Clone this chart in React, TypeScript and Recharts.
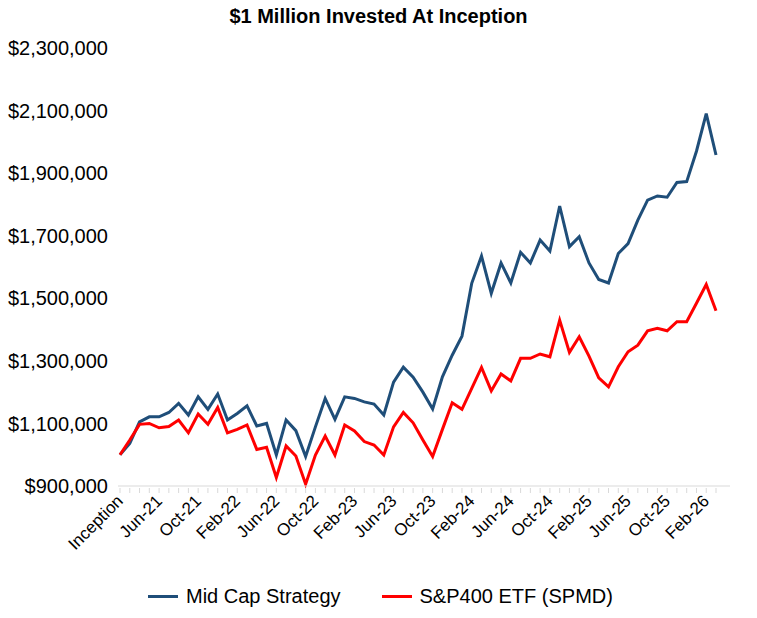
import React from 'react';
import { LineChart, Line, XAxis, YAxis } from 'recharts';

const months = ['Inception','Mar-21','Apr-21','May-21','Jun-21','Jul-21','Aug-21','Sep-21','Oct-21','Nov-21','Dec-21','Jan-22','Feb-22','Mar-22','Apr-22','May-22','Jun-22','Jul-22','Aug-22','Sep-22','Oct-22','Nov-22','Dec-22','Jan-23','Feb-23','Mar-23','Apr-23','May-23','Jun-23','Jul-23','Aug-23','Sep-23','Oct-23','Nov-23','Dec-23','Jan-24','Feb-24','Mar-24','Apr-24','May-24','Jun-24','Jul-24','Aug-24','Sep-24','Oct-24','Nov-24','Dec-24','Jan-25','Feb-25','Mar-25','Apr-25','May-25','Jun-25','Jul-25','Aug-25','Sep-25','Oct-25','Nov-25','Dec-25','Jan-26','Feb-26','Mar-26'];

const midCap = [1000000,1036000,1105000,1121000,1121000,1135000,1164000,1127000,1185000,1145000,1194000,1111000,1132000,1156000,1092000,1100000,999000,1111000,1077000,994000,1089000,1180000,1113000,1185000,1180000,1169000,1162000,1127000,1232000,1280000,1248000,1200000,1146000,1249000,1318000,1379000,1548000,1635000,1516000,1613000,1549000,1647000,1613000,1686000,1651000,1795000,1665000,1697000,1613000,1560000,1549000,1643000,1675000,1750000,1814000,1827000,1823000,1870000,1873000,1970000,2090000,1958000];

const spmd = [1000000,1047000,1097000,1100000,1086000,1090000,1111000,1070000,1130000,1097000,1151000,1070000,1081000,1095000,1017000,1024000,927000,1028000,996000,906000,999000,1060000,999000,1095000,1076000,1042000,1031000,999000,1089000,1135000,1102000,1047000,994000,1081000,1166000,1145000,1212000,1279000,1204000,1258000,1236000,1308000,1308000,1322000,1313000,1430000,1327000,1377000,1315000,1246000,1217000,1281000,1329000,1350000,1396000,1404000,1396000,1425000,1425000,1484000,1544000,1460000];

const yTicks = [900000,1100000,1300000,1500000,1700000,1900000,2100000,2300000];

const data = months.map((m, i) => ({ month: m, midCap: midCap[i], spmd: spmd[i] }));

const FONT = 'Liberation Sans, Arial, sans-serif';

const XTick = (props: any) => {
  const { x, y, payload, index } = props;
  return (
    <g>
      <line x1={x} y1={y - 6} x2={x} y2={y - 1} stroke="#d9d9d9" />
      {index % 4 === 0 && (
        <text x={x + 4} y={y + 8} textAnchor="end" transform={`rotate(-45, ${x + 4}, ${y + 8})`} fontSize={17} fill="#000" fontFamily={FONT}>
          {payload.value}
        </text>
      )}
    </g>
  );
};

const fmt = (v: number) => '$' + v.toLocaleString('en-US');

export default function App() {
  return (
    <div style={{ position: 'absolute', left: 0, top: 0, width: 757, height: 618, background: '#fff', fontFamily: FONT }}>
      <div style={{ position: 'absolute', top: 5, left: 0, width: 757, textAlign: 'center', fontWeight: 'bold', fontSize: 20 }}>
        $1 Million Invested At Inception
      </div>
      <LineChart width={757} height={618} data={data} margin={{ top: 48, right: 27, bottom: 62, left: 0 }}>
        <XAxis dataKey="month" interval={0} tick={<XTick />} tickLine={false} axisLine={{ stroke: '#d9d9d9' }} height={70} padding={{ left: 2, right: 14 }} />
        <YAxis domain={[900000, 2300000]} ticks={yTicks} tickFormatter={fmt} axisLine={false} tickLine={false} width={118} tickMargin={4} tick={{ fontSize: 20, fill: '#000', fontFamily: FONT }} />
        <Line dataKey="midCap" stroke="#1F4E79" strokeWidth={3} dot={false} isAnimationActive={false} />
        <Line dataKey="spmd" stroke="#FF0000" strokeWidth={3} dot={false} isAnimationActive={false} />
      </LineChart>
      <div style={{ position: 'absolute', top: 585, left: 148, display: 'flex', alignItems: 'center', fontSize: 20 }}>
        <span style={{ display: 'inline-block', width: 30, height: 3, background: '#1F4E79', marginRight: 8 }} />
        <span>Mid Cap Strategy</span>
        <span style={{ display: 'inline-block', width: 30, height: 3, background: '#FF0000', marginLeft: 41, marginRight: 8 }} />
        <span>S&amp;P400 ETF (SPMD)</span>
      </div>
    </div>
  );
}
